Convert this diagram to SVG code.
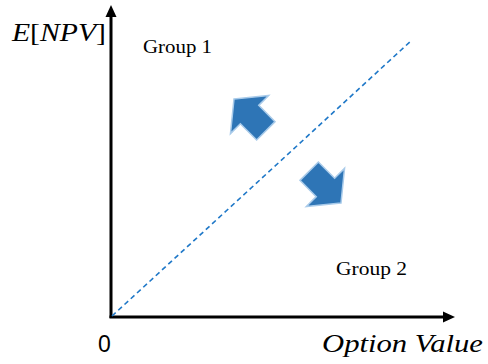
<svg xmlns="http://www.w3.org/2000/svg" width="488" height="364" viewBox="0 0 488 364">
<style>
.axis{stroke:#000;stroke-width:3;fill:none}
.diag{stroke:#1F78C8;stroke-width:1.6;stroke-dasharray:5 3.5;fill:none}
.barrow{fill:#2E75B6;stroke:#A9CBEA;stroke-width:1.5;stroke-linejoin:miter}
.grp{font-family:"Liberation Serif",serif;font-size:19px;fill:#000}
.math{font-family:"Liberation Serif",serif;font-style:italic;fill:#000}
</style>
<defs>
<marker id="ah" markerUnits="userSpaceOnUse" markerWidth="12" markerHeight="12" viewBox="0 0 12 12" refX="2" refY="6" orient="auto">
<path d="M0,0.5 L12,6 L0,11.5 Z" fill="#000"/>
</marker>
</defs>
<g id="connectors">
<line class="axis" x1="111" y1="318" x2="111" y2="15" marker-end="url(#ah)"/>
<line class="axis" x1="109.5" y1="317" x2="445" y2="317" marker-end="url(#ah)"/>
<line class="diag" x1="112" y1="316" x2="412" y2="40"/>
</g>
<g id="arrow-up-left">
<polygon class="barrow" transform="translate(234,99) rotate(-45)" points="0,0 27,22 13,22 13,45 -13,45 -13,22 -27,22"/>
</g>
<g id="arrow-down-right">
<polygon class="barrow" transform="translate(341,203) rotate(135)" points="0,0 27,22 13,22 13,45 -13,45 -13,22 -27,22"/>
</g>
<g id="group1"><text class="grp" x="143" y="53" textLength="69" lengthAdjust="spacingAndGlyphs">Group 1</text></g>
<g id="group2"><text class="grp" x="336" y="275" textLength="71" lengthAdjust="spacingAndGlyphs">Group 2</text></g>
<g id="ylabel"><text class="math" x="12" y="41" font-size="26" textLength="94" lengthAdjust="spacingAndGlyphs">E<tspan font-style="normal">[</tspan>NPV<tspan font-style="normal">]</tspan></text></g>
<g id="origin"><text x="98" y="352" font-family="Liberation Sans, sans-serif" font-size="23" fill="#000">0</text></g>
<g id="xlabel"><text class="math" x="322" y="352" font-size="25" textLength="161" lengthAdjust="spacingAndGlyphs">Option Value</text></g>
</svg>
